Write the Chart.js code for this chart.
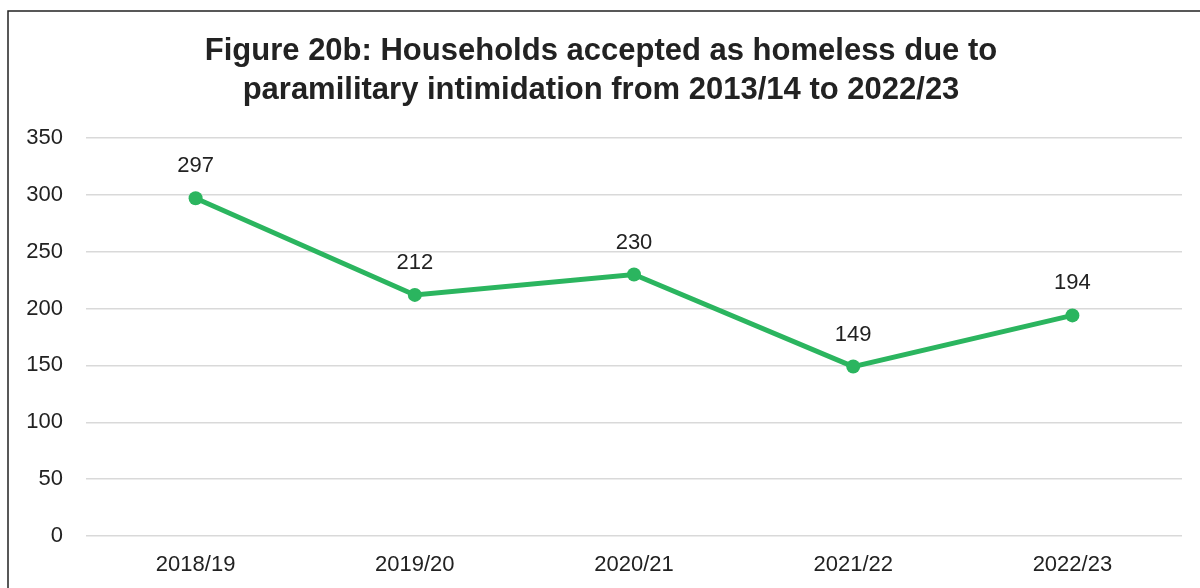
<!DOCTYPE html>
<html>
<head>
<meta charset="utf-8">
<script src="https://cdn.jsdelivr.net/npm/chart.js@4"></script>
<style>
  html, body { margin: 0; padding: 0; background: #fff; }
  #wrap { width: 1200px; height: 588px; position: relative; }
</style>
</head>
<body>
<div id="wrap"><canvas id="homeless-chart"></canvas></div>
<script>
const titleLines = ['Figure 20b: Households accepted as homeless due to', 'paramilitary intimidation from 2013/14 to 2022/23'];
const years = ['2018/19', '2019/20', '2020/21', '2021/22', '2022/23'];
const households = [297, 212, 230, 149, 194];
const yTicks = [0, 50, 100, 150, 200, 250, 300, 350];

const green = '#2bb55f';
const textColor = '#222222';
const fontFamily = '"Liberation Sans", Arial, sans-serif';

// frame round the figure (cut off at right and bottom like the original)
const framePlugin = {
  id: 'frame',
  beforeDraw(chart) {
    const c = chart.ctx;
    c.save();
    c.strokeStyle = '#222';
    c.lineWidth = 1.5;
    c.beginPath();
    c.moveTo(8, chart.height + 2);
    c.lineTo(8, 11);
    c.lineTo(chart.width + 2, 11);
    c.stroke();
    c.restore();
  }
};

// value labels above each point
const valueLabels = {
  id: 'valueLabels',
  afterDatasetsDraw(chart) {
    const c = chart.ctx;
    const meta = chart.getDatasetMeta(0);
    c.save();
    c.font = '22px ' + fontFamily;
    c.fillStyle = textColor;
    c.textAlign = 'center';
    c.textBaseline = 'middle';
    meta.data.forEach((pt, i) => {
      c.fillText(String(households[i]), pt.x, pt.y - 32);
    });
    c.restore();
  }
};

const ctx = document.getElementById('homeless-chart').getContext('2d');
const myChart = new Chart(ctx, {
  type: 'line',
  data: {
    labels: years,
    datasets: [{
      label: 'Households',
      data: households,
      borderColor: green,
      backgroundColor: green,
      borderWidth: 5,
      pointRadius: 7,
      pointHoverRadius: 7,
      pointBackgroundColor: green,
      pointBorderWidth: 0,
      tension: 0
    }]
  },
  options: {
    responsive: true,
    maintainAspectRatio: false,
    animation: false,
    events: [],
    layout: { padding: { top: 32, right: 18, bottom: 0, left: 20 } },
    plugins: {
      legend: { display: false },
      tooltip: { enabled: false },
      title: {
        display: true,
        text: titleLines,
        color: textColor,
        font: { family: fontFamily, size: 31, weight: 'bold', lineHeight: 1.258 },
        padding: { top: 0, bottom: 28 }
      }
    },
    scales: {
      y: {
        min: 0,
        max: 350,
        afterBuildTicks(scale) { scale.ticks = yTicks.map(v => ({ value: v })); },
        afterFit(scale) { scale.width = 66; },
        border: { display: false },
        grid: { color: '#d9d9d9', lineWidth: 1.5, drawTicks: false },
        ticks: {
          padding: 23,
          color: textColor,
          font: { family: fontFamily, size: 22 }
        }
      },
      x: {
        offset: true,
        afterFit(scale) { scale.height = 52; },
        border: { display: false },
        grid: { display: false, drawTicks: false },
        ticks: {
          padding: 16,
          color: textColor,
          font: { family: fontFamily, size: 22 }
        }
      }
    }
  },
  plugins: [framePlugin, valueLabels]
});
</script>
</body>
</html>
